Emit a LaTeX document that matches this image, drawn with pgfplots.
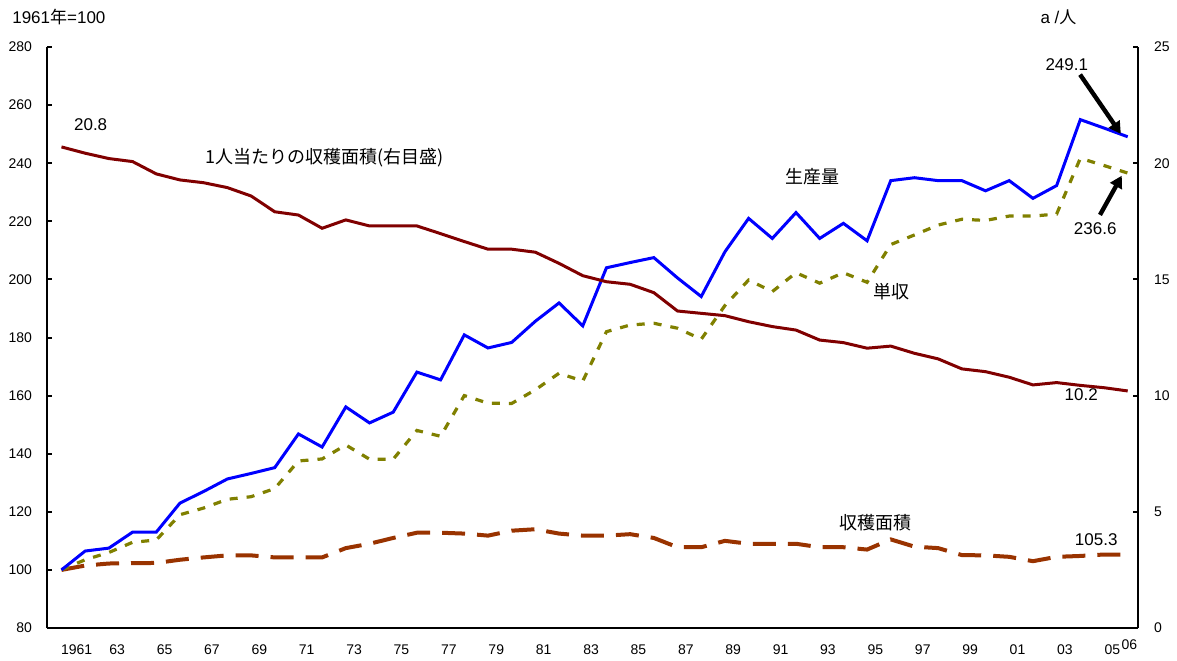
\documentclass[border=0pt]{standalone}
\usepackage{pgfplots}
\pgfplotsset{compat=1.18}
\usepackage{pgfplotstable}
\usepackage{fontspec}
\setmainfont{Liberation Sans}
\newfontfamily\cjk{Noto Sans CJK JP}
\usetikzlibrary{arrows.meta}
\definecolor{prodblue}{RGB}{0,0,255}
\definecolor{yieldolive}{RGB}{128,128,0}
\definecolor{areaorange}{RGB}{153,51,0}
\definecolor{capred}{RGB}{128,0,0}

\pgfplotstableread{
year prod yield area percap
1961 100 100 100 20.7
1962 106.5 103.5 101.5 20.43
1963 107.5 106 102.2 20.2
1964 113 109.5 102.3 20.07
1965 113 110.3 102.4 19.54
1966 123 119 103.5 19.28
1967 127 121.3 104.3 19.16
1968 131.3 124.3 105 18.95
1969 133.2 125.2 105 18.59
1970 135.2 128 104.3 17.91
1971 146.8 137.5 104.3 17.77
1972 142.3 138.2 104.3 17.2
1973 156.1 143 107.5 17.56
1974 150.6 138.1 109 17.3
1975 154.3 138.1 111 17.3
1976 168.1 148 112.8 17.3
1977 165.4 146 112.8 16.97
1978 180.9 160 112.5 16.63
1979 176.4 157.4 111.8 16.3
1980 178.3 157.3 113.5 16.3
1981 185.6 162 114 16.17
1982 191.9 167.7 112.5 15.69
1983 184 165 111.8 15.16
1984 204 182 111.8 14.9
1985 205.8 184.3 112.3 14.79
1986 207.5 184.9 111 14.43
1987 200.5 183.2 107.8 13.64
1988 194.1 179.4 107.8 13.54
1989 209.5 191 110 13.44
1990 221 199.8 109 13.18
1991 214.1 195.8 109 12.97
1992 223 202.3 109 12.82
1993 214.1 198.7 107.8 12.39
1994 219.3 202.3 107.8 12.28
1995 213.3 199 107 12.04
1996 234 212 110.5 12.13
1997 235 215.3 108 11.82
1998 234 218.7 107.5 11.58
1999 234 220.7 105.1 11.15
2000 230.5 220.3 105 11.03
2001 234 221.8 104.5 10.79
2002 227.9 221.8 103 10.46
2003 232.3 222.5 104.5 10.56
2004 255 241.7 104.8 10.44
2005 252.1 239.2 105.3 10.34
2006 249.1 236.6 105.3 10.2
}\datatable

\begin{document}
\begin{tikzpicture}
\useasboundingbox (-23.5pt,-16pt) rectangle (565pt,314pt);
\begin{axis}[
  at={(0pt,0pt)}, anchor=south west,
  scale only axis, width=545.5pt, height=290.5pt,
  xmin=1960.388, xmax=2006.435, ymin=80, ymax=280,
  axis x line*=bottom, axis y line*=left,
  axis line style={line width=1.1pt, black},
  clip=false,
  ytick={80,100,...,280},
  xtick={1961.64,1963.35,1965.35,1967.35,1969.35,1971.35,1973.35,1975.35,1977.35,1979.35,1981.35,1983.35,1985.35,1987.35,1989.35,1991.35,1993.35,1995.35,1997.35,1999.35,2001.35,2003.35,2005.35},
  xticklabels={1961,63,65,67,69,71,73,75,77,79,81,83,85,87,89,91,93,95,97,99,01,03,05},
  xtick style={draw=none},
  minor xtick={1961.5,1962.5,...,2005.5},
  minor tick length=2pt, major tick length=2.5pt,
  tick align=inside,
  tick style={black, line width=1pt},
  minor tick style={black, line width=1pt},
  /pgf/number format/assume math mode=true,
  tick label style={font=\fontsize{7}{8}\selectfont},
  xticklabel style={anchor=center, yshift=-11pt},
  yticklabel style={anchor=east, xshift=-4pt},
]
\addplot[areaorange, line width=2pt, dash pattern=on 11.5pt off 6pt] table[x=year, y=area] {\datatable};
\addplot[yieldolive, line width=1.6pt, dash pattern=on 4pt off 4.5pt] table[x=year, y=yield] {\datatable};
\addplot[prodblue, line width=1.5pt] table[x=year, y=prod] {\datatable};

\node[font=\fontsize{8.5}{9}\selectfont] at (axis cs:1960.89,290.2) {1961{\cjk 年}=100};
\node[font=\fontsize{8.5}{9}\selectfont] at (axis cs:2003.08,290.2) {a /{\cjk 人}};
\node[font=\fontsize{8.5}{9}\selectfont] at (axis cs:1962.23,253.2) {20.8};
\node[font=\cjk\fontsize{9}{10}\selectfont] at (axis cs:1972.1,241.9) {1人当たりの収穫面積(右目盛)};
\node[font=\cjk\fontsize{9}{10}\selectfont] at (axis cs:1992.68,235.4) {生産量};
\node[font=\cjk\fontsize{9}{10}\selectfont] at (axis cs:1996.02,195.8) {単収};
\node[font=\cjk\fontsize{9}{10}\selectfont] at (axis cs:1995.34,116.1) {収穫面積};
\node[font=\fontsize{8.5}{9}\selectfont] at (axis cs:2004.67,110.3) {105.3};
\node[font=\fontsize{8.5}{9}\selectfont] at (axis cs:2004.04,160.3) {10.2};
\node[font=\fontsize{8.5}{9}\selectfont] at (axis cs:2003.43,273.9) {249.1};
\node[font=\fontsize{8.5}{9}\selectfont] at (axis cs:2004.63,217.3) {236.6};
\node[font=\fontsize{7}{8}\selectfont] at (axis cs:2006.07,74.1) {06};
\draw[line width=2.2pt, -{Triangle[length=6pt,width=6.5pt]}] (axis cs:2003.99,270.5) -- (axis cs:2005.71,250.1);
\draw[line width=2.2pt, -{Triangle[length=6pt,width=6.5pt]}] (axis cs:2004.83,222.2) -- (axis cs:2005.75,235.7);
\end{axis}
\begin{axis}[
  at={(0pt,0pt)}, anchor=south west,
  scale only axis, width=545.5pt, height=290.5pt,
  xmin=1960.388, xmax=2006.435, ymin=0, ymax=25,
  axis x line=none, axis y line*=right,
  axis line style={line width=1.1pt, black},
  ytick={0,5,...,25},
  major tick length=2.5pt, tick align=inside,
  tick style={black, line width=1pt},
  /pgf/number format/assume math mode=true,
  tick label style={font=\fontsize{7}{8}\selectfont},
  yticklabel style={anchor=west, xshift=4.5pt},
]
\addplot[capred, line width=1.5pt] table[x=year, y=percap] {\datatable};
\end{axis}
\end{tikzpicture}
\end{document}
